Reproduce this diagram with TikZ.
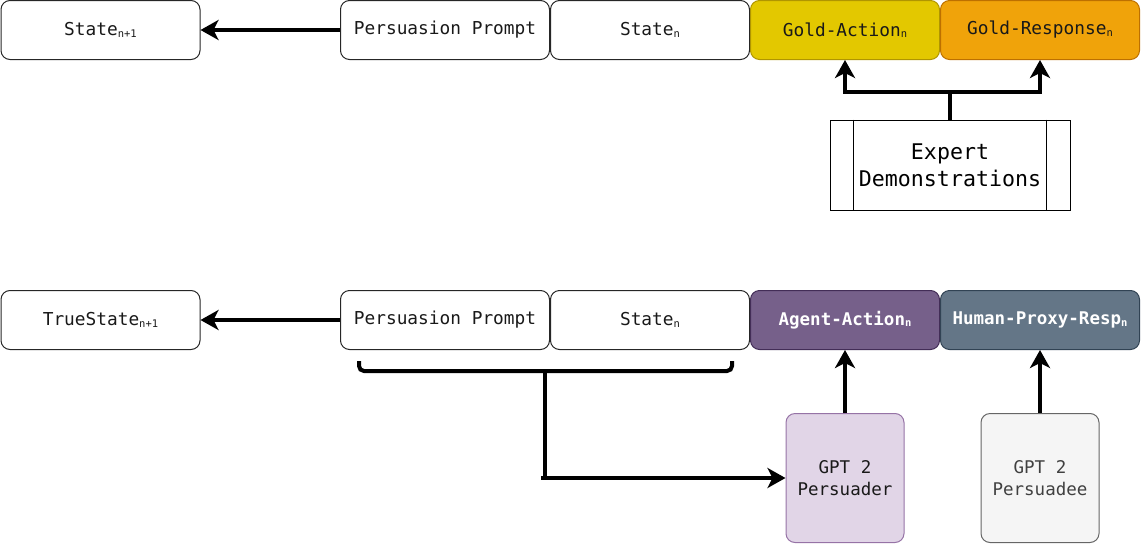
\documentclass[tikz,border=0pt]{standalone}
\usepackage{fontspec}
\setmonofont{DejaVu Sans Mono}
\usetikzlibrary{arrows.meta}
\definecolor{goldAfill}{HTML}{E3C800}
\definecolor{goldAdraw}{HTML}{B09500}
\definecolor{goldRfill}{HTML}{F0A30A}
\definecolor{goldRdraw}{HTML}{BD7000}
\definecolor{agentfill}{HTML}{76608A}
\definecolor{agentdraw}{HTML}{432D57}
\definecolor{humanfill}{HTML}{647687}
\definecolor{humandraw}{HTML}{314354}
\definecolor{persfill}{HTML}{E1D5E7}
\definecolor{persdraw}{HTML}{9673A6}
\definecolor{peefill}{HTML}{F5F5F5}
\definecolor{peedraw}{HTML}{666666}
\newcommand{\subtxt}[1]{\raisebox{-1.5pt}{\fontsize{10.5}{10.5}\selectfont #1}}
\begin{document}
\begin{tikzpicture}[x=1pt,y=-1pt,
  box/.style={draw=black!85, line width=1pt, rounded corners=9pt,
    font=\ttfamily\fontsize{17.8}{22}\selectfont, text=black!90, inner sep=0pt,
    minimum height=59pt},
  wide/.style={minimum width=199pt},
  mid/.style={minimum width=189pt},
  tall/.style={minimum width=118pt, minimum height=129pt, align=center,
    font=\ttfamily\fontsize{17.5}{22}\selectfont},
  conn/.style={line width=4pt, -{Stealth[length=18pt,width=20pt,inset=5pt]}},
  thick4/.style={line width=4pt}
]
\useasboundingbox (0,0) rectangle (1141,544);

% top row
\node[box, wide] (s1) at (100.5,30) {State\subtxt{n+1}};
\node[box, minimum width=209pt] (pp1) at (445,30) {Persuasion Prompt};
\node[box, wide] (sn1) at (650,30) {State\subtxt{n}};
\node[box, mid, fill=goldAfill, draw=goldAdraw] (ga) at (845,30) {Gold-Action\subtxt{n}};
\node[box, wide, fill=goldRfill, draw=goldRdraw] (gr) at (1040,30) {Gold-Response\subtxt{n}};

% expert demonstrations
\node[draw=black, line width=1pt, minimum width=240pt, minimum height=90pt,
  inner sep=0pt, align=center, font=\ttfamily\fontsize{21.6}{27}\selectfont]
  (ed) at (950,165) {Expert\\Demonstrations};
\draw[line width=1pt] ([xshift=24pt]ed.north west) -- ([xshift=24pt]ed.south west);
\draw[line width=1pt] ([xshift=-24pt]ed.north east) -- ([xshift=-24pt]ed.south east);

\draw[conn] (pp1.west) -- (s1.east);
\draw[thick4] (ed.north) -- ++(0,-28) coordinate (j);
\draw[conn] (j) -| (ga.south);
\draw[conn] (j) -| (gr.south);

% bottom row
\node[box, wide] (ts) at (100.5,320) {TrueState\subtxt{n+1}};
\node[box, minimum width=209pt] (pp2) at (445,320) {Persuasion Prompt};
\node[box, wide] (sn2) at (650,320) {State\subtxt{n}};
\node[box, mid, fill=agentfill, draw=agentdraw, text=white,
  font=\ttfamily\bfseries\fontsize{17.5}{22}\selectfont] (aa) at (845,320) {Agent-Action\subtxt{n}};
\node[box, wide, fill=humanfill, draw=humandraw, text=white,
  font=\ttfamily\bfseries\fontsize{17.5}{22}\selectfont] (hp) at (1040,320) {Human-Proxy-Resp\subtxt{n}};

\node[box, tall, fill=persfill, draw=persdraw] (gp) at (845,478) {GPT 2\\Persuader};
\node[box, tall, fill=peefill, draw=peedraw, text=black!75] (gpe) at (1040,478) {GPT 2\\Persuadee};

\draw[conn] (pp2.west) -- (ts.east);
\draw[conn] (gp.north) -- (aa.south);
\draw[conn] (gpe.north) -- (hp.south);

% brace
\coordinate (bl) at (359,361);
\coordinate (br) at (732,361);
\coordinate (bm) at (545,371);
\draw[thick4, rounded corners=5pt] (bl) -- (359,371) -- (545,371) -- (732,371) -- (br);
\draw[thick4] (bm) -- (545,478) coordinate (bc);
\draw[conn] ([xshift=-4pt]bc) -- (gp.west);
\end{tikzpicture}
\end{document}
